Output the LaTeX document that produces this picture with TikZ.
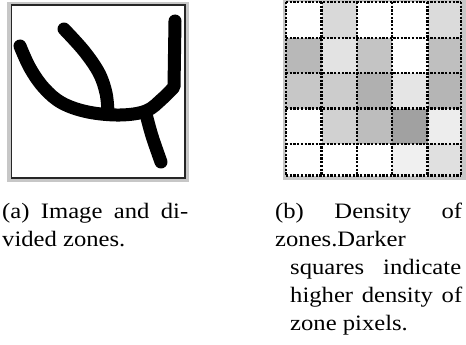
\documentclass[tikz,border=0pt]{standalone}
\usepackage{fontspec}
\setmainfont{Liberation Serif}[FakeStretch=1.12]
\begin{document}
\begin{tikzpicture}[x=1pt,y=-1pt,
  stroke/.style={line width=13pt,line cap=round,line join=round},
  gridline/.style={line width=2.6pt,dash pattern=on 2.3pt off 1.4pt},
  capline/.style={anchor=base west,inner sep=0pt,font=\fontsize{22}{28}\selectfont}]
\useasboundingbox (0,0) rectangle (466,345);
% ---- left image frame
\fill[black!22] (7,2.5) rectangle (188.5,181.5);
\draw[fill=white,line width=1.4pt,draw=black!85] (11.5,5) rectangle (185,178);
% ---- handwritten stroke
\draw[stroke] plot[smooth,tension=0.6] coordinates {(20,46) (30,68) (44,88) (62,103) (88,112) (120,115) (146,111) (162,99) (174,87)} -- (175,21);
\draw[stroke] plot[smooth,tension=0.6] coordinates {(64,29) (84,51) (99,73) (106,93) (108,112)};
\draw[stroke] plot[smooth,tension=0.6] coordinates {(146,114) (152,136) (161,162)};
% ---- density grid
\fill[black!22] (283,0) rectangle (466,180);
\def\gx{{286,321.7,356.8,392,427.7,461}}
\def\gy{{2,38,73,108.5,144,175.5}}
\foreach \r/\c/\s in {
 1/1/0,1/2/15,1/3/0,1/4/0,1/5/14,
 2/1/28,2/2/11,2/3/23,2/4/0,2/5/25,
 3/1/22,3/2/20,3/3/31,3/4/10,3/5/29,
 4/1/0,4/2/18,4/3/26,4/4/37,4/5/7,
 5/1/0,5/2/0,5/3/0,5/4/6,5/5/12}{
  \pgfmathsetmacro\xa{\gx[\c-1]}\pgfmathsetmacro\xb{\gx[\c]}
  \pgfmathsetmacro\ya{\gy[\r-1]}\pgfmathsetmacro\yb{\gy[\r]}
  \fill[black!\s] (\xa,\ya) rectangle (\xb,\yb);
}
\foreach \i in {0,...,5}{
  \pgfmathsetmacro\xx{\gx[\i]}\pgfmathsetmacro\yy{\gy[\i]}
  \draw[gridline] (\xx,2) -- (\xx,175.5);
  \draw[gridline] (286,\yy) -- (461,\yy);
}
% ---- captions
\node[capline] (a1) at (2,218) {\hbox to 186pt{(a)\hfill Image\hfill and\hfill di-}};
\node[capline] (a2) at (2,246) {vided zones.};
\node[capline] (b1) at (275,218) {\hbox to 187pt{(b)\hfill Density\hfill of}};
\node[capline] (b2) at (275,246) {zones.Darker};
\node[capline] (b3) at (290,274) {\hbox to 171pt{squares\hfill indicate}};
\node[capline] (b4) at (290,302) {\hbox to 172pt{higher\hfill density\hfill of}};
\node[capline] (b5) at (290,330) {zone pixels.};
\end{tikzpicture}
\end{document}
